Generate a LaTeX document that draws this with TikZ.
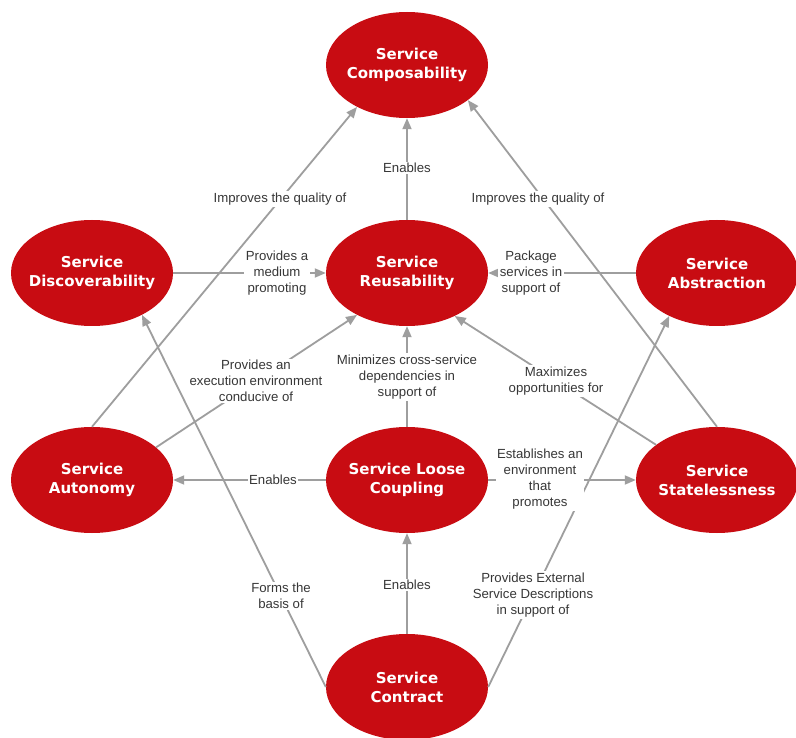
\documentclass[tikz,border=0pt]{standalone}
\usepackage{fontspec}
\setmainfont{Liberation Sans}
\newfontfamily\ovalfont{DejaVu Sans}
\usetikzlibrary{arrows.meta,shapes.geometric}
\definecolor{ovalred}{RGB}{200,12,18}
\definecolor{linkgray}{RGB}{158,158,158}
\definecolor{labelgray}{RGB}{55,55,55}

\begin{document}
\begin{tikzpicture}[x=1pt,y=-1pt,
  principle/.style={ellipse, fill=ovalred, minimum width=162pt, minimum height=106pt,
    inner xsep=-10pt, inner ysep=0pt, text=white, align=center,
    font=\ovalfont\bfseries\fontsize{15}{19}\selectfont},
  link/.style={draw=linkgray, line width=1.8pt, -{Triangle[length=11pt,width=9pt]}},
  linklabel/.style={fill=white, inner sep=1.5pt, align=center, text=labelgray,
    font=\fontsize{13.2}{16}\selectfont}]

\useasboundingbox (0,0) rectangle (796,738);
\fill[white] (0,0) rectangle (796,738);

% principles
\node[principle] (comp)  at (407,65)  {Service\\Composability};
\node[principle] (reus)  at (407,273) {Service\\Reusability};
\node[principle] (disc)  at (92,273)  {Service\\Discoverability};
\node[principle] (abst)  at (717,273) {Service\\Abstraction};
\node[principle] (auto)  at (92,480)  {Service\\Autonomy};
\node[principle] (loose) at (407,480) {Service Loose\\Coupling};
\node[principle] (state) at (717,480) {Service\\Statelessness};
\node[principle] (contr) at (407,687) {Service\\Contract};

% relationships
\draw[link] (reus) -- (comp);
\draw[link] (disc) -- (reus);
\draw[link] (abst) -- (reus);
\draw[link] (auto.north) -- (comp.220);
\draw[link] (state.north) -- (comp.-30);
\draw[link] (auto.27) -- (reus.220);
\draw[link] (loose) -- (reus);
\draw[link] (state.150) -- (reus.-42);
\draw[link] (loose) -- (auto);
\draw[link] (loose) -- (state);
\draw[link] (contr) -- (loose);
\draw[link] (contr.west) -- (disc.-40);
\draw[link] (contr.east) -- (abst.222);

% relationship labels
\node[linklabel] (l1)  at (407,168) {Enables};
\node[linklabel] (l2)  at (277,273) {Provides a\\medium\\promoting};
\node[linklabel] (l3)  at (531,273) {Package\\services in\\support of};
\node[linklabel] (l4)  at (280,199) {Improves the quality of};
\node[linklabel] (l5)  at (538,199) {Improves the quality of};
\node[linklabel] (l6)  at (256,381) {Provides an\\execution environment\\conducive of};
\node[linklabel] (l7)  at (407,377) {Minimizes cross-service\\dependencies in\\support of};
\node[linklabel] (l8)  at (556,381) {Maximizes\\opportunities for};
\node[linklabel] (l9)  at (273,480) {Enables};
\node[linklabel] (l10) at (540,479) {Establishes an\\environment\\that\\promotes};
\node[linklabel] (l11) at (407,585) {Enables};
\node[linklabel] (l12) at (281,596) {Forms the\\basis of};
\node[linklabel] (l13) at (533,595) {Provides External\\Service Descriptions\\in support of};
\end{tikzpicture}
\end{document}
